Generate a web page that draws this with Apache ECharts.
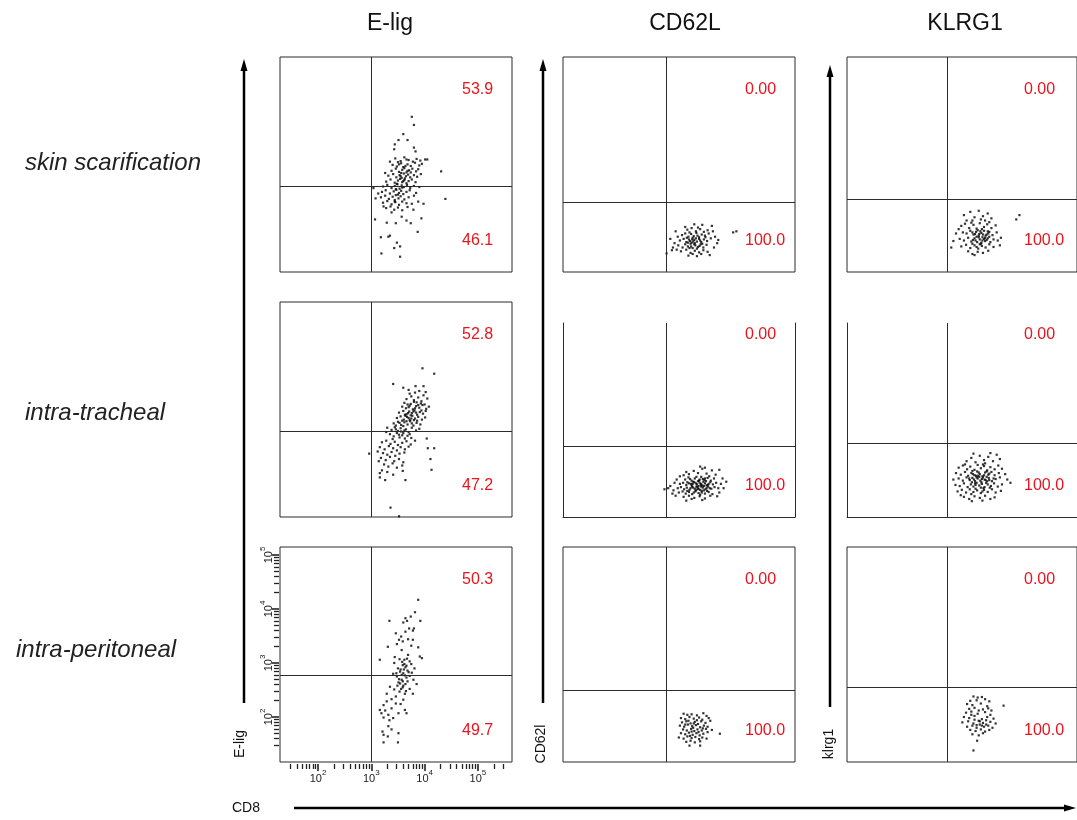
<!DOCTYPE html>
<html>
<head>
<meta charset="utf-8">
<script src="https://cdn.jsdelivr.net/npm/echarts@6/dist/echarts.min.js"></script>
<style>
    html, body { margin: 0; padding: 0; background: #fff; }
    #main { width: 1077px; height: 820px; }
</style>
</head>
<body>
<div id="main"></div>
<script>
// columns / rows
var markers = ['E-lig', 'CD62L', 'KLRG1'];
var routes = ['skin scarification', 'intra-tracheal', 'intra-peritoneal'];
var yNames = ['E-lig', 'CD62l', 'klrg1'];
var xName = 'CD8';
// gates (log10 units)
var gateX = [3.0, 3.22, 3.18];
var gateY = [[2.76, 2.46, 2.52], [2.76, 2.48, 2.54], [2.77, 2.50, 2.56]];
// quadrant percentages
var pctHigh = [['53.9', '0.00', '0.00'], ['52.8', '0.00', '0.00'], ['50.3', '0.00', '0.00']];
var pctLow = [['46.1', '100.0', '100.0'], ['47.2', '100.0', '100.0'], ['49.7', '100.0', '100.0']];
// decade tick labels (10^n)
var decades = [2, 3, 4, 5];

// events, [CD8, marker] in log10 units
var skinElig = [
    [3.76,4.04],[3.80,3.89],[3.60,3.72],[3.51,3.61],[3.68,3.61],[3.44,3.53],[3.43,3.44],[3.80,3.47],[3.83,3.40],[4.31,3.03],
    [4.39,2.52],[3.87,1.91],[3.19,1.51],[3.54,1.45],[3.43,1.61],[3.54,1.64],[3.32,1.82],[3.35,1.84],[3.48,1.71],[3.07,2.14],
    [3.18,1.81],[3.29,2.08],[3.46,2.07],[3.74,2.07],[3.94,2.16],[3.98,2.43],[3.66,2.12],[3.08,2.53],[3.13,2.62],[3.26,3.00],
    [3.35,3.21],[4.01,3.25],[4.05,3.25],[3.04,2.72],[3.23,2.38],[3.38,2.27],[3.57,2.19],[3.79,2.32],[3.88,2.47],[3.44,2.47],
    [3.45,3.27],[3.55,3.22],[3.62,3.29],[3.70,3.24],[3.78,3.21],[3.85,3.26],[3.92,3.23],[3.50,3.20],[3.66,3.25],
    [3.40,3.15],[3.48,3.12],[3.56,3.18],[3.60,3.11],[3.68,3.16],[3.74,3.13],[3.82,3.19],[3.90,3.14],[3.95,3.17],[3.52,3.16],[3.64,3.13],
    [3.38,3.04],[3.46,3.08],[3.52,3.02],[3.58,3.06],[3.62,3.09],[3.66,3.01],[3.71,3.05],[3.77,3.08],[3.84,3.03],[3.88,3.07],[3.56,3.00],[3.68,3.04],[3.74,3.01],
    [3.32,2.95],[3.41,2.98],[3.47,2.92],[3.53,2.96],[3.57,2.91],[3.61,2.99],[3.65,2.94],[3.69,2.97],[3.73,2.92],[3.80,2.96],[3.86,2.93],[3.93,2.98],[3.55,2.94],[3.63,2.90],
    [3.28,2.84],[3.36,2.88],[3.44,2.82],[3.50,2.86],[3.54,2.89],[3.58,2.83],[3.62,2.87],[3.66,2.81],[3.70,2.85],[3.76,2.88],[3.83,2.83],[3.48,2.80],[3.60,2.85],
    [3.22,2.75],[3.30,2.78],[3.38,2.72],[3.44,2.76],[3.49,2.79],[3.53,2.71],[3.57,2.77],[3.61,2.74],[3.67,2.78],[3.73,2.72],[3.80,2.76],[3.90,2.74],[3.46,2.70],[3.58,2.73],
    [3.20,2.65],[3.27,2.68],[3.35,2.62],[3.42,2.66],[3.47,2.69],[3.52,2.63],[3.56,2.67],[3.60,2.61],[3.66,2.65],[3.72,2.68],[3.84,2.63],[3.50,2.60],
    [3.18,2.55],[3.26,2.58],[3.33,2.52],[3.40,2.56],[3.46,2.59],[3.51,2.53],[3.55,2.57],[3.62,2.51],[3.70,2.55],[3.80,2.58],[3.44,2.50],
    [3.22,2.45],[3.30,2.48],[3.38,2.42],[3.45,2.46],[3.52,2.41],[3.58,2.47],[3.66,2.44],[3.76,2.43],
    [3.28,2.35],[3.36,2.38],[3.43,2.32],[3.50,2.36],[3.58,2.31],[3.68,2.37]
];
var trachElig = [
    [3.70,3.52],[3.82,3.47],[3.90,3.50],[3.75,3.40],[3.88,3.38],[3.98,3.42],[4.05,3.36],[3.66,3.35],[3.80,3.33],[3.94,3.31],[3.72,3.45],[4.02,3.48],
    [3.62,3.28],[3.74,3.26],[3.85,3.29],[3.93,3.27],[4.00,3.25],[3.68,3.25],[3.80,3.30],
    [3.58,3.21],[3.65,3.18],[3.72,3.23],[3.78,3.16],[3.84,3.22],[3.90,3.19],[3.96,3.24],[4.03,3.17],[3.70,3.20],[3.82,3.18],[3.88,3.24],[4.08,3.21],
    [3.52,3.10],[3.60,3.13],[3.66,3.07],[3.71,3.12],[3.76,3.09],[3.81,3.14],[3.86,3.06],[3.91,3.11],[3.97,3.08],[4.02,3.13],[3.74,3.05],[3.84,3.10],[3.63,3.06],[3.94,3.14],[3.79,3.12],[3.69,3.09],
    [3.48,3.00],[3.55,3.03],[3.61,2.97],[3.67,3.02],[3.72,2.96],[3.77,3.04],[3.82,2.99],[3.88,3.02],[3.95,2.97],[4.01,3.01],[3.58,2.95],[3.70,3.00],[3.80,2.96],[3.64,3.04],[3.86,2.95],[3.75,2.99],
    [3.42,2.90],[3.50,2.93],[3.56,2.87],[3.62,2.92],[3.68,2.88],[3.73,2.94],[3.79,2.86],[3.85,2.91],[3.92,2.88],[3.46,2.86],[3.60,2.85],[3.76,2.90],[3.53,2.91],[3.66,2.94],
    [3.30,2.82],[3.38,2.78],[3.44,2.83],[3.50,2.76],[3.55,2.81],[3.60,2.72],[3.65,2.79],[3.70,2.74],[3.76,2.82],[3.84,2.77],[3.35,2.70],[3.42,2.66],[3.48,2.72],
    [3.53,2.64],[3.58,2.68],[3.63,2.62],[3.68,2.67],[3.75,2.63],[3.28,2.74],[3.46,2.79],[3.56,2.75],[3.40,2.61],[3.52,2.69],[3.72,2.70],[3.90,2.80],[3.62,2.77],
    [3.20,2.55],[3.28,2.58],[3.36,2.52],[3.44,2.56],[3.50,2.50],[3.58,2.54],[3.66,2.57],[3.74,2.51],[3.82,2.58],[3.16,2.46],[3.25,2.42],[3.33,2.48],[3.41,2.44],
    [3.48,2.40],[3.55,2.46],[3.63,2.42],[3.70,2.47],[3.22,2.35],[3.30,2.32],[3.38,2.37],[3.45,2.30],[3.53,2.34],[3.62,2.36],[3.18,2.26],[3.27,2.22],[3.35,2.28],
    [3.43,2.20],[3.52,2.24],[3.60,2.18],[3.24,2.14],[3.32,2.10],[3.40,2.16],[3.48,2.08],[3.20,2.03],[3.30,2.00],[3.58,2.12],[3.12,2.38],[3.14,2.20],
    [3.96,3.92],[4.18,3.82],[3.41,3.63],[3.60,3.56],[3.83,3.59],[3.98,3.59],[2.96,2.34],[4.04,2.62],[4.06,2.44],[4.18,2.44],
    [4.11,2.24],[4.13,2.04],[3.36,1.34],[3.52,1.18],[3.16,1.90],[3.16,1.98],[3.26,1.85],[3.64,1.85],[3.41,1.95],[3.59,2.02]
];
var periElig = [
    [3.88,4.17],[3.82,3.94],[3.74,3.86],[3.64,3.83],[3.67,3.78],[3.34,3.78],[3.92,3.78],[3.60,3.75],[3.71,3.64],[3.80,3.64],
    [3.78,3.60],[3.64,3.58],[3.46,3.55],[3.56,3.49],[3.52,3.43],[3.69,3.44],[3.78,3.43],[3.59,3.40],[3.48,3.35],[3.75,3.32],
    [3.31,3.30],[3.88,3.29],[3.57,3.24],[3.91,3.12],[3.95,3.09],[3.44,3.11],[3.69,3.15],[3.16,3.06],[3.53,3.07],[3.62,3.06],
    [3.72,3.03],[3.43,3.00],[3.59,2.96],[3.64,2.92],[3.50,2.90],[3.81,2.90],[3.68,2.86],[3.54,2.84],[3.76,2.82],[3.60,2.81],
    [3.41,2.80],[3.48,2.75],[3.66,2.73],[3.57,2.69],[3.79,2.69],[3.85,2.61],[3.51,2.64],[3.64,2.61],[3.35,2.56],[3.59,2.55],
    [3.43,2.51],[3.72,2.52],[3.53,2.47],[3.63,2.43],[3.29,2.43],[3.46,2.38],[3.78,2.43],[3.38,2.33],[3.60,2.32],[3.29,2.29],
    [3.46,2.25],[3.55,2.24],[3.23,2.22],[3.38,2.16],[3.16,2.13],[3.26,2.12],[3.51,2.07],[3.63,2.13],[3.66,2.07],[3.19,2.07],
    [3.32,2.04],[3.23,1.99],[3.34,1.94],[3.41,1.98],[3.38,1.77],[3.21,1.73],[3.23,1.67],[3.23,1.53],[3.31,1.64],[3.51,1.70],
    [3.50,1.53],[3.32,1.83],
    [3.58,3.02],[3.62,2.98],[3.55,2.88],[3.66,2.95],[3.70,2.83],[3.57,2.78],[3.63,2.77],[3.52,2.70],[3.68,2.66],[3.60,2.58],
    [3.56,2.52],[3.65,2.48],[3.49,2.58],[3.72,2.76],[3.61,2.88],[3.54,2.62],[3.67,3.08],[3.59,2.66],[3.75,2.98],[3.47,2.81]
];
var skinCd62l = [
    [3.62,1.95],[3.70,1.98],[3.78,1.92],[3.86,1.96],[3.93,1.91],[3.66,1.90],[3.82,1.99],[4.00,1.94],
    [3.52,1.85],[3.58,1.88],[3.64,1.82],[3.69,1.87],[3.74,1.83],[3.79,1.89],[3.84,1.81],[3.89,1.86],[3.95,1.84],[4.02,1.88],[3.72,1.80],[3.61,1.80],
    [3.48,1.75],[3.55,1.78],[3.60,1.72],[3.65,1.77],[3.70,1.71],[3.75,1.76],[3.80,1.73],[3.84,1.78],[3.88,1.72],[3.93,1.77],[3.99,1.74],[4.06,1.79],[3.67,1.74],[3.78,1.79],[3.86,1.75],[3.73,1.73],
    [3.45,1.66],[3.53,1.62],[3.58,1.68],[3.63,1.64],[3.68,1.69],[3.72,1.61],[3.77,1.66],[3.82,1.63],[3.87,1.68],[3.92,1.62],[3.98,1.67],[3.75,1.68],[3.80,1.60],[3.66,1.61],
    [3.50,1.55],[3.60,1.58],[3.68,1.52],[3.76,1.56],[3.84,1.53],[3.92,1.57],[4.00,1.54],[3.72,1.50],[3.88,1.50],
    [3.40,1.92],[3.44,1.82],[3.38,1.70],[3.42,1.58],[3.35,1.62],[4.10,1.92],[4.14,1.82],[4.18,1.70],[4.12,1.62],[4.08,2.02],
    [3.75,2.05],[3.90,2.04],[3.58,2.00],[3.64,1.47],[3.80,1.46],[4.04,1.48],[3.33,1.57],[3.23,1.51],[4.48,1.90],[4.54,1.92],[3.30,1.78],[4.20,1.76],
    [3.76,1.70],[3.81,1.84],[3.71,1.77],[3.90,1.69],[3.63,1.71],[3.85,1.65],[3.96,1.81],[3.69,1.64]
];
var trachCd62l = [
    [3.58,1.86],[3.64,1.90],[3.70,1.84],[3.76,1.88],[3.82,1.83],[3.88,1.91],[3.94,1.85],[4.00,1.89],[4.06,1.84],[4.12,1.88],[3.67,1.87],[3.79,1.91],[3.91,1.87],[4.03,1.92],[3.73,1.82],[3.85,1.86],[3.97,1.83],
    [3.48,1.78],[3.54,1.80],[3.60,1.76],[3.65,1.79],[3.70,1.75],[3.75,1.81],[3.80,1.77],[3.85,1.80],[3.90,1.75],[3.95,1.79],[4.00,1.76],[4.05,1.81],[4.10,1.77],[4.16,1.80],[3.62,1.81],[3.72,1.78],[3.83,1.74],[3.92,1.82],[4.02,1.78],[3.78,1.79],[3.88,1.78],[3.98,1.75],
    [3.44,1.70],[3.50,1.72],[3.56,1.68],[3.61,1.71],[3.66,1.67],[3.71,1.73],[3.76,1.69],[3.81,1.72],[3.86,1.67],[3.91,1.71],[3.96,1.68],[4.01,1.73],[4.07,1.69],[4.13,1.72],[4.20,1.70],[3.68,1.70],[3.78,1.66],[3.88,1.73],[3.98,1.70],[3.83,1.69],[3.93,1.66],[3.73,1.71],
    [3.46,1.62],[3.53,1.64],[3.59,1.60],[3.65,1.63],[3.71,1.59],[3.77,1.64],[3.83,1.61],[3.89,1.65],[3.95,1.60],[4.02,1.63],[4.09,1.59],[3.74,1.62],[3.86,1.58],[3.62,1.65],
    [3.55,1.54],[3.65,1.56],[3.75,1.52],[3.85,1.55],[3.95,1.51],[4.05,1.56],[3.70,1.50],[3.90,1.48],[3.60,1.47],
    [3.65,1.96],[3.74,2.02],[3.82,1.98],[3.90,2.06],[3.98,1.97],[4.08,2.03],[3.86,2.10],[4.15,1.95],[3.60,2.00],[4.22,2.04],[3.55,1.94],[3.95,2.08],
    [3.30,1.74],[3.36,1.66],[3.38,1.80],[3.34,1.60],[3.26,1.70],[3.40,1.56],[4.25,1.78],[4.30,1.70],[4.28,1.88],[4.22,1.62],[4.35,1.82],[4.18,1.55],[3.19,1.68],[3.42,1.86],[3.48,1.92],
    [3.87,1.76],[3.93,1.74],[3.81,1.68],[3.99,1.65],[3.84,1.84],[3.95,1.88],[3.79,1.73],[4.04,1.70],[3.89,1.62],[3.69,1.78]
];
var periCd62l = [
    [3.55,2.06],[3.62,2.04],[3.70,2.05],[3.80,2.03],[3.92,2.07],[3.98,2.02],[3.50,1.98],[3.58,1.96],[3.66,2.00],[3.74,1.97],
    [3.84,1.99],[3.90,1.95],[4.02,1.98],[3.52,1.90],[3.60,1.92],[3.68,1.88],[3.76,1.91],[3.82,1.87],[3.88,1.92],[3.96,1.89],
    [4.05,1.93],[3.48,1.84],[3.56,1.82],[3.63,1.86],[3.71,1.83],[3.78,1.85],[3.86,1.81],[3.93,1.84],[4.00,1.82],[3.54,1.77],
    [3.61,1.75],[3.69,1.78],[3.75,1.74],[3.81,1.77],[3.89,1.75],[3.97,1.78],[4.08,1.76],[3.50,1.70],[3.58,1.68],[3.65,1.71],
    [3.72,1.67],[3.79,1.70],[3.85,1.66],[3.92,1.69],[4.00,1.72],[3.46,1.62],[3.55,1.60],[3.62,1.64],[3.70,1.61],[3.77,1.63],
    [3.84,1.59],[3.90,1.62],[3.98,1.60],[3.60,1.54],[3.68,1.56],[3.76,1.53],[3.86,1.55],[3.66,1.47],[3.86,1.47],[4.23,1.69],
    [3.64,1.93],[3.73,1.80],[3.80,1.94],[3.67,1.65],[3.83,1.72],[3.74,1.88],[3.91,1.79],[3.58,1.86],[3.70,1.73]
];
var skinKlrg1 = [
    [3.50,2.22],[3.62,2.28],[3.70,2.18],[3.78,2.30],[3.86,2.20],[3.95,2.25],[3.66,2.12],[3.82,2.14],[4.02,2.16],[3.55,2.12],[3.90,2.12],
    [3.45,2.02],[3.52,2.06],[3.60,1.98],[3.68,2.04],[3.74,1.97],[3.80,2.07],[3.88,2.00],[3.94,2.05],[4.02,1.98],[4.10,2.03],[3.40,1.96],[3.64,2.08],[3.84,1.96],[3.98,2.09],
    [3.48,1.90],[3.55,1.88],[3.62,1.93],[3.68,1.86],[3.73,1.91],[3.78,1.84],[3.83,1.89],[3.88,1.93],[3.93,1.86],[3.98,1.91],[4.04,1.85],[4.12,1.90],[3.66,1.90],[3.76,1.94],[3.86,1.86],[3.96,1.88],[3.71,1.87],[3.81,1.92],[3.91,1.84],[3.35,1.88],
    [3.42,1.78],[3.50,1.75],[3.58,1.80],[3.64,1.73],[3.70,1.79],[3.75,1.72],[3.80,1.77],[3.85,1.81],[3.90,1.74],[3.95,1.79],[4.00,1.72],[4.06,1.77],[4.14,1.75],[3.67,1.76],[3.78,1.81],[3.88,1.78],[3.98,1.82],[3.72,1.75],[3.83,1.71],[3.93,1.76],[3.30,1.74],[4.20,1.80],
    [3.45,1.64],[3.54,1.67],[3.62,1.61],[3.70,1.66],[3.77,1.60],[3.84,1.65],[3.91,1.62],[3.98,1.68],[4.06,1.63],[3.66,1.69],[3.80,1.68],[3.74,1.63],[3.26,1.62],[4.18,1.66],
    [3.58,1.55],[3.66,1.50],[3.76,1.54],[3.86,1.52],[3.70,1.48],[3.96,1.56],[4.49,2.14],[4.55,2.22],
    [3.79,1.87],[3.85,1.75],[3.74,1.82],[3.90,1.80],[3.82,1.69],[3.95,1.92]
];
var trachKlrg1 = [
    [3.55,2.20],[3.64,2.26],[3.72,2.18],[3.80,2.30],[3.88,2.22],[3.96,2.28],[4.05,2.20],[4.12,2.32],[4.18,2.24],[3.68,2.34],[3.90,2.16],[4.00,2.35],
    [3.40,2.08],[3.48,2.12],[3.56,2.05],[3.62,2.10],[3.70,2.04],[3.76,2.13],[3.82,2.07],[3.88,2.11],[3.94,2.03],[4.00,2.09],[4.08,2.05],[4.15,2.12],[4.22,2.06],[3.66,2.02],[3.86,2.14],[3.52,2.14],
    [3.35,1.98],[3.44,1.95],[3.52,2.00],[3.58,1.93],[3.64,1.98],[3.70,1.94],[3.75,2.01],[3.80,1.96],[3.85,1.92],[3.90,1.99],[3.96,1.95],[4.02,2.00],[4.08,1.94],[4.16,1.98],[3.67,1.96],[3.78,1.99],[3.88,1.94],[3.98,1.97],[3.73,1.93],[3.93,2.01],[4.28,1.96],
    [3.30,1.86],[3.40,1.88],[3.48,1.84],[3.55,1.90],[3.61,1.85],[3.66,1.89],[3.71,1.83],[3.76,1.88],[3.81,1.84],[3.86,1.90],[3.91,1.85],[3.97,1.89],[4.03,1.83],[4.10,1.87],[4.18,1.90],[3.69,1.86],[3.79,1.91],[3.89,1.86],[3.74,1.90],[3.84,1.87],[3.94,1.83],[4.32,1.86],
    [3.34,1.76],[3.42,1.74],[3.50,1.79],[3.57,1.72],[3.63,1.77],[3.68,1.73],[3.74,1.80],[3.79,1.75],[3.84,1.78],[3.89,1.72],[3.95,1.77],[4.01,1.74],[4.07,1.79],[4.14,1.73],[3.72,1.76],[3.82,1.71],[3.92,1.80],[3.65,1.81],[3.99,1.71],[4.22,1.77],[4.38,1.80],
    [3.38,1.64],[3.46,1.67],[3.54,1.62],[3.61,1.68],[3.68,1.63],[3.75,1.66],[3.82,1.61],[3.88,1.67],[3.95,1.63],[4.03,1.68],[4.10,1.62],[3.72,1.69],[3.85,1.64],[3.64,1.59],[4.20,1.65],
    [3.50,1.54],[3.60,1.50],[3.70,1.55],[3.80,1.52],[3.90,1.56],[4.00,1.50],[3.65,1.46],[3.85,1.47],[4.08,1.53],[3.44,1.57],
    [3.77,1.93],[3.83,1.81],[3.87,1.70],[3.93,1.91],[3.71,1.79],[3.98,1.85],[3.60,1.88],[4.06,1.88]
];
var periKlrg1 = [
    [3.68,2.38],[3.76,2.36],[3.84,2.37],[3.62,2.30],[3.74,2.31],[3.90,2.33],[3.98,2.29],[3.56,2.24],[3.66,2.22],[3.82,2.25],
    [3.94,2.20],[4.25,2.21],[3.60,2.15],[3.70,2.17],[3.86,2.14],[3.96,2.16],[4.02,2.12],[3.54,2.08],[3.64,2.10],[3.76,2.06],
    [3.90,2.09],[4.00,2.04],[3.50,2.00],[3.60,1.98],[3.70,2.02],[3.84,1.96],[3.94,2.00],[4.06,1.97],[3.47,1.90],[3.58,1.92],
    [3.68,1.88],[3.78,1.93],[3.86,1.89],[3.92,1.86],[4.00,1.91],[4.10,1.88],[3.56,1.82],[3.66,1.84],[3.74,1.80],[3.80,1.86],
    [3.88,1.82],[3.96,1.84],[4.04,1.80],[3.62,1.76],[3.72,1.74],[3.82,1.77],[3.90,1.73],[3.98,1.76],[3.66,1.68],[3.78,1.66],
    [3.86,1.70],[3.75,1.56],[3.68,1.38],[3.80,1.92],[3.74,1.85],[3.84,1.84],[3.92,1.94],[3.70,1.95],[3.64,2.04],[3.78,2.12]
];

var cells = [
    [skinElig, skinCd62l, skinKlrg1],
    [trachElig, trachCd62l, trachKlrg1],
    [periElig, periCd62l, periKlrg1]
];

// layout
var colLeft = [280, 563, 847];
var rowTop = [57, 302, 547];
var panelW = 232, panelH = 215;
var pxPerDecadeX = 53.3, pxPerDecadeY = 54;
var xMin = 1.287, xMax = xMin + panelW / pxPerDecadeX;
var yMax = 5.148, yMin = yMax - panelH / pxPerDecadeY;
var cutTop = 21; // row 2 cols 2-3: top edge cropped in the source figure
var font = 'Liberation Sans, Arial, Helvetica, sans-serif';
var red = '#e8141e';
var lineCol = '#2b2b2b';

function minorTicks(lo, hi) {
    var out = [];
    for (var d = 1; d <= 5; d++) {
        for (var k = 2; k <= 9; k++) {
            var v = d + Math.log10(k);
            if (v > lo && v < hi) out.push(v);
        }
    }
    return out;
}
function powLabel(v) {
    return '{b|10}{s|' + Math.round(v) + '}';
}
var powRich = {
    b: { fontSize: 11, fontFamily: font, color: '#222', verticalAlign: 'bottom' },
    s: { fontSize: 8, fontFamily: font, color: '#222', verticalAlign: 'bottom', padding: [0, 0, 7, 0] }
};

var grid = [], xAxis = [], yAxis = [], series = [], graphic = [];

function hiddenAxis(gi, lo, hi, showLine, pos) {
    return {
        gridIndex: gi, type: 'value', min: lo, max: hi, show: showLine, position: pos,
        axisLine: { show: true, onZero: false, lineStyle: { color: lineCol, width: 1 } },
        axisTick: { show: false }, axisLabel: { show: false }, splitLine: { show: false }
    };
}

for (var r = 0; r < 3; r++) {
    for (var c = 0; c < 3; c++) {
        var cut = (r === 1 && c > 0);
        var gTop = cut ? rowTop[r] + cutTop : rowTop[r];
        var gYMax = cut ? yMax - cutTop / pxPerDecadeY : yMax;
        var gi = grid.length;
        grid.push({
            left: colLeft[c], top: gTop, width: panelW, height: rowTop[r] + panelH - gTop,
            show: !cut, borderColor: lineCol, borderWidth: 1, backgroundColor: 'transparent'
        });
        var xi = xAxis.length, yi = yAxis.length;
        xAxis.push(hiddenAxis(gi, xMin, xMax, cut, 'bottom'));
        yAxis.push(hiddenAxis(gi, yMin, gYMax, cut, 'left'));
        if (cut) {
            yAxis.push(hiddenAxis(gi, yMin, gYMax, true, 'right'));
        }
        // log decade axes only on the bottom-left plot
        if (r === 2 && c === 0) {
            xAxis.push({
                gridIndex: gi, type: 'value', min: xMin, max: xMax, position: 'bottom', offset: 2,
                axisLine: { show: false }, splitLine: { show: false }, axisLabel: { show: false },
                axisTick: { show: true, length: 5, customValues: minorTicks(1.4, 5.5), lineStyle: { color: '#222', width: 1.3 } }
            });
            xAxis.push({
                gridIndex: gi, type: 'value', min: xMin, max: xMax, position: 'bottom', offset: 2,
                axisLine: { show: false }, splitLine: { show: false },
                axisTick: { show: true, length: 7, customValues: decades, lineStyle: { color: '#222', width: 1.6 } },
                axisLabel: { show: true, customValues: decades, margin: 5, formatter: powLabel, rich: powRich }
            });
            yAxis.push({
                gridIndex: gi, type: 'value', min: yMin, max: yMax, position: 'left', offset: 1,
                axisLine: { show: false }, splitLine: { show: false }, axisLabel: { show: false },
                axisTick: { show: true, length: 5, customValues: minorTicks(1.4, 5.0), lineStyle: { color: '#222', width: 1.3 } }
            });
            yAxis.push({
                gridIndex: gi, type: 'value', min: yMin, max: yMax, position: 'left', offset: 1,
                axisLine: { show: false }, splitLine: { show: false },
                axisTick: { show: true, length: 7, customValues: decades, lineStyle: { color: '#222', width: 1.6 } },
                axisLabel: { show: true, customValues: decades, margin: 5, rotate: 90, formatter: powLabel, rich: powRich }
            });
        }
        series.push({
            type: 'scatter', xAxisIndex: xi, yAxisIndex: yi, data: cells[r][c],
            symbol: 'rect', symbolSize: 2.2, silent: true,
            itemStyle: { color: '#000' },
            markLine: {
                silent: true, symbol: 'none', label: { show: false }, animation: false,
                lineStyle: { color: lineCol, width: 1, type: 'solid' },
                data: [{ xAxis: gateX[c] }, { yAxis: gateY[r][c] }]
            }
        });
        // quadrant numbers
        var tx = colLeft[c] + (c === 2 ? 177 : 182);
        graphic.push({
            type: 'text', x: tx, y: rowTop[r] + 33,
            style: { text: pctHigh[r][c], font: '16px ' + font, fill: red, textAlign: 'left', textVerticalAlign: 'middle' }
        });
        graphic.push({
            type: 'text', x: tx, y: rowTop[r] + panelH - 31,
            style: { text: pctLow[r][c], font: '16px ' + font, fill: red, textAlign: 'left', textVerticalAlign: 'middle' }
        });
    }
}

// column titles
var titleX = [390, 685, 965];
for (var c = 0; c < 3; c++) {
    graphic.push({
        type: 'text', x: titleX[c], y: 24,
        style: { text: markers[c], font: '23px ' + font, fill: '#111', textAlign: 'center', textVerticalAlign: 'middle' }
    });
}
// row labels
var rowLabelX = [25, 25, 16];
var rowLabelY = [163, 413, 650];
for (var r = 0; r < 3; r++) {
    graphic.push({
        type: 'text', x: rowLabelX[r], y: rowLabelY[r],
        style: { text: routes[r], font: 'italic 24px ' + font, fill: '#222', textAlign: 'left', textVerticalAlign: 'middle' }
    });
}
// vertical arrows + axis names
var arrowX = [244, 543, 830];
var arrowTip = [59, 59, 65];
var arrowEnd = [703, 703, 707];
var nameX = [240, 541, 829];
for (var c = 0; c < 3; c++) {
    graphic.push({
        type: 'line', shape: { x1: arrowX[c], y1: arrowEnd[c], x2: arrowX[c], y2: arrowTip[c] + 8 },
        style: { stroke: '#000', lineWidth: 2.5 }
    });
    graphic.push({
        type: 'polygon',
        shape: { points: [[arrowX[c], arrowTip[c]], [arrowX[c] - 3.5, arrowTip[c] + 12], [arrowX[c] + 3.5, arrowTip[c] + 12]] },
        style: { fill: '#000' }
    });
    graphic.push({
        type: 'text', x: nameX[c], y: 744, rotation: Math.PI / 2,
        style: { text: yNames[c], font: '14px ' + font, fill: '#111', textAlign: 'center', textVerticalAlign: 'middle' }
    });
}
// horizontal arrow + CD8
graphic.push({
    type: 'line', shape: { x1: 294, y1: 808, x2: 1066, y2: 808 },
    style: { stroke: '#000', lineWidth: 2.5 }
});
graphic.push({
    type: 'polygon', shape: { points: [[1076, 808], [1064, 804.5], [1064, 811.5]] },
    style: { fill: '#000' }
});
graphic.push({
    type: 'text', x: 246, y: 808,
    style: { text: xName, font: '14px ' + font, fill: '#111', textAlign: 'center', textVerticalAlign: 'middle' }
});

var myChart = echarts.init(document.getElementById('main'));
var option = {
    backgroundColor: '#fff',
    animation: false,
    grid: grid,
    xAxis: xAxis,
    yAxis: yAxis,
    series: series,
    graphic: graphic
};
myChart.setOption(option);
window.addEventListener('resize', function () {
    myChart.resize();
});
</script>
</body>
</html>
